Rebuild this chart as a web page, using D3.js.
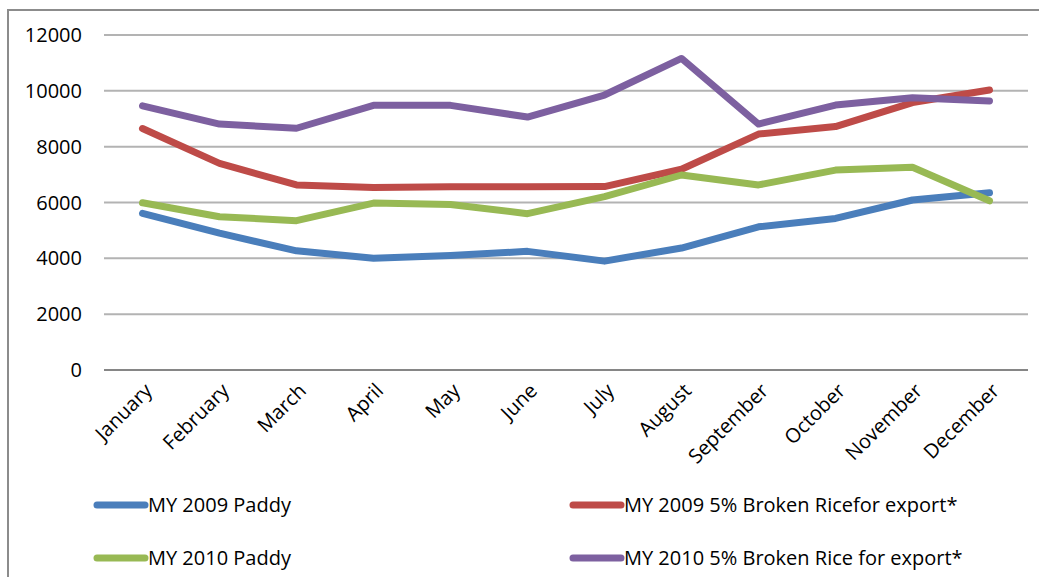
<!DOCTYPE html>
<html>
<head>
<meta charset="utf-8">
<script src="https://cdn.jsdelivr.net/npm/d3@7"></script>
<style>
  body { margin: 0; background: #fff; }
  text { font-family: "Open Sans", "Liberation Sans", sans-serif; fill: #000; }
</style>
</head>
<body>
<svg id="chart"></svg>
<script>
let months = ["January", "February", "March", "April", "May", "June",
  "July", "August", "September", "October", "November", "December"];
let yTicks = [0, 2000, 4000, 6000, 8000, 10000, 12000];

let paddy2009 = [5610, 4900, 4270, 4000, 4100, 4250, 3900, 4370, 5130, 5430, 6090, 6350];
let broken2009 = [8650, 7400, 6630, 6540, 6560, 6560, 6570, 7190, 8450, 8720, 9580, 10030];
let paddy2010 = [5990, 5490, 5350, 5980, 5930, 5600, 6210, 6985, 6630, 7160, 7260, 6060];
let broken2010 = [9460, 8810, 8660, 9480, 9480, 9060, 9850, 11160, 8810, 9490, 9750, 9640];

let seriesNames = ["MY 2009 Paddy", "MY 2009 5% Broken Ricefor export*",
  "MY 2010 Paddy", "MY 2010 5% Broken Rice for export*"];
let seriesColors = ["#4a7ebb", "#be4b48", "#98b954", "#7d60a0"];

function makeChart() {
  let w = 1039, h = 577;
  let svg = d3.select("#chart").attr("width", w).attr("height", h);

  // outer frame
  svg.append("rect")
    .attr("x", 8).attr("y", 10)
    .attr("width", 1040).attr("height", 580)
    .attr("fill", "none").attr("stroke", "#8c8c8c").attr("stroke-width", 2);

  let x = d3.scaleBand().domain(months).range([104, 1028]);
  let y = d3.scaleLinear().domain([0, 12000]).range([370, 35]);

  // gridlines
  svg.append("g")
    .selectAll("line")
    .data(yTicks)
    .enter()
    .append("line")
      .attr("x1", 104).attr("x2", 1028)
      .attr("y1", d => y(d)).attr("y2", d => y(d))
      .attr("stroke", d => d === 0 ? "#868686" : "#b3b3b3")
      .attr("stroke-width", 2);

  // y labels
  svg.append("g")
    .selectAll("text")
    .data(yTicks)
    .enter()
    .append("text")
      .attr("x", 82)
      .attr("y", d => y(d))
      .attr("dy", "0.35em")
      .attr("text-anchor", "end")
      .style("font-size", "20px")
      .text(d => d);

  // x labels
  svg.append("g")
    .selectAll("text")
    .data(months)
    .enter()
    .append("text")
      .attr("transform", d => "translate(" + (x(d) + x.bandwidth() / 2 + 6) + ",387) rotate(-45)")
      .attr("text-anchor", "end")
      .attr("dy", "0.35em")
      .style("font-size", "20px")
      .text(d => d);

  let allSeries = [paddy2009, broken2009, paddy2010, broken2010];
  let line = d3.line()
    .x((d, i) => x(months[i]) + x.bandwidth() / 2)
    .y(d => y(d));

  svg.append("g")
    .selectAll("path")
    .data(allSeries)
    .enter()
    .append("path")
      .attr("d", line)
      .attr("fill", "none")
      .attr("stroke", (d, i) => seriesColors[i])
      .attr("stroke-width", 7)
      .attr("stroke-linejoin", "round")
      .attr("stroke-linecap", "round");

  // legend
  let legendPos = [[97, 505], [573, 505], [97, 558], [573, 558]];
  let leg = svg.append("g")
    .selectAll("g")
    .data(seriesNames)
    .enter()
    .append("g")
      .attr("transform", (d, i) => "translate(" + legendPos[i][0] + "," + legendPos[i][1] + ")");
  leg.append("line")
    .attr("x1", 0).attr("x2", 48)
    .attr("stroke", (d, i) => seriesColors[i])
    .attr("stroke-width", 7)
    .attr("stroke-linecap", "round");
  leg.append("text")
    .attr("x", 51)
    .attr("dy", "0.35em")
    .style("font-size", "20px")
    .text(d => d);
}

window.onload = function() {
  makeChart();
}
</script>
</body>
</html>
